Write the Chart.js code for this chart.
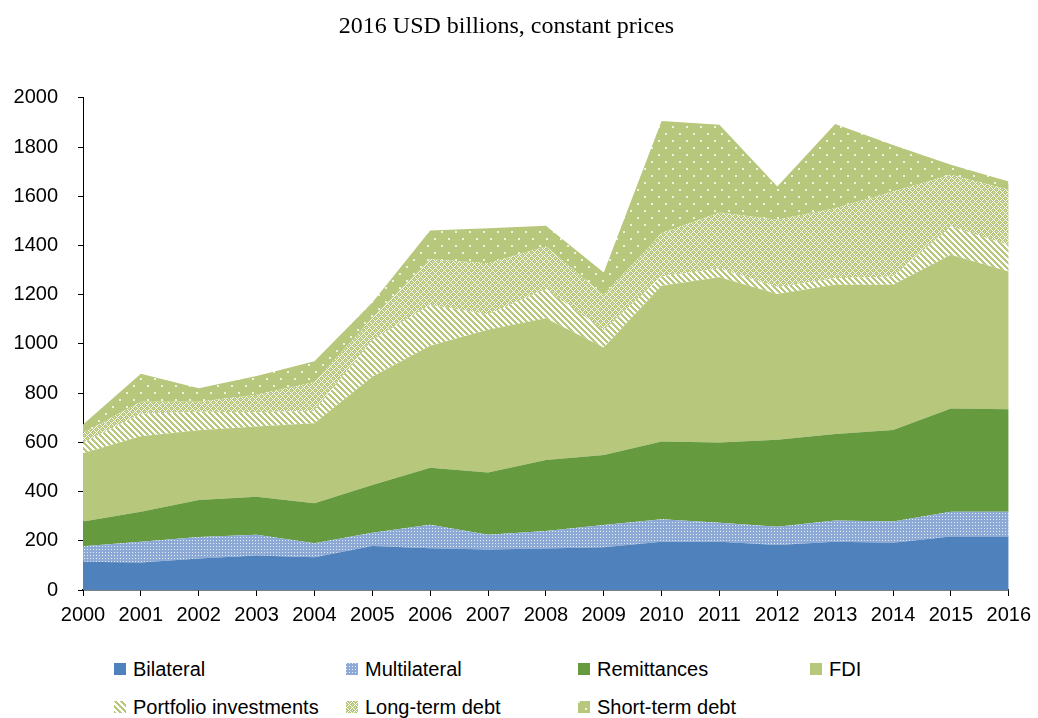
<!DOCTYPE html>
<html>
<head>
<meta charset="utf-8">
<script src="https://cdn.jsdelivr.net/npm/chart.js@4"></script>
<style>
  body { margin: 0; background: #fff; }
  #wrap { position: relative; width: 1038px; height: 718px; }
  #chart { position: absolute; left: 0; top: 0; }
  .leg { position: absolute; font-family: 'Liberation Sans', Arial, sans-serif; font-size: 20px; color: #000; white-space: nowrap; line-height: 24px; }
  .leg canvas { position: absolute; left: 0; top: 6px; }
  .leg span { position: absolute; left: 19px; top: 0; }
</style>
</head>
<body>
<div id="wrap">
  <canvas id="chart" width="1038" height="630"></canvas>
</div>
<script>
// data (USD billions)
const years = ['2000','2001','2002','2003','2004','2005','2006','2007','2008','2009','2010','2011','2012','2013','2014','2015','2016'];
const bilateral    = [115,112,128,140,133,179,170,165,169,174,196,196,183,196,192,217,217];
const multilateral = [63,84,87,84,57,54,95,59,71,90,91,77,74,86,86,101,101];
const remittances  = [100,122,151,155,162,194,232,253,288,285,316,326,354,352,372,420,416];
const fdi          = [278,307,283,285,326,440,495,580,576,436,633,672,592,606,590,624,560];
const portfolio    = [42,91,75,58,50,149,166,63,118,70,38,35,27,27,34,115,108];
const longTermDebt = [40,49,41,71,117,89,186,208,174,144,176,228,274,284,345,210,224];
const shortTermDebt= [34,114,55,77,85,63,117,142,84,91,456,356,136,343,189,41,34];
const seriesNames  = ['Bilateral','Multilateral','Remittances','FDI','Portfolio investments','Long-term debt','Short-term debt'];

const BLUE = '#4F81BD', DKGREEN = '#669A3F', LTGREEN = '#B7C77B';

// small tiles for the fill patterns
function tile(size, draw) {
  const c = document.createElement('canvas');
  c.width = c.height = size;
  draw(c.getContext('2d'), size);
  return c;
}
const tiles = {
  solidBlue: tile(2, (g, s) => { g.fillStyle = BLUE; g.fillRect(0, 0, s, s); }),
  checkBlue: tile(3, (g) => {
    g.fillStyle = '#8DAAD6'; g.fillRect(0, 0, 3, 3);
    g.fillStyle = '#E4ECF6'; g.fillRect(0, 0, 1, 1);
  }),
  solidDark: tile(2, (g, s) => { g.fillStyle = DKGREEN; g.fillRect(0, 0, s, s); }),
  solidLight: tile(2, (g, s) => { g.fillStyle = LTGREEN; g.fillRect(0, 0, s, s); }),
  stripes: tile(6, (g, s) => {
    g.fillStyle = '#fff'; g.fillRect(0, 0, s, s);
    g.fillStyle = LTGREEN;
    for (let y = 0; y < s; y++) for (let x = 0; x < s; x++) {
      if (((x - y) % s + s) % s < 3) g.fillRect(x, y, 1, 1);
    }
  }),
  lattice: tile(6, (g, s) => {
    g.fillStyle = LTGREEN; g.fillRect(0, 0, s, s);
    g.fillStyle = '#fff';
    for (let y = 0; y < s; y++) for (let x = 0; x < s; x++) {
      if ((x + y) % s === 0 || ((x - y) % s + s) % s === 0) g.fillRect(x, y, 1, 1);
    }
    g.fillStyle = '#DCE5C0';
    g.fillRect(3, 0, 1, 1); g.fillRect(0, 3, 1, 1);
  }),
  dots: tile(14, (g, s) => {
    g.fillStyle = LTGREEN; g.fillRect(0, 0, s, s);
    g.fillStyle = '#EEF2E0';
    g.fillRect(0, 0, 2, 2); g.fillRect(7, 7, 2, 2);
  })
};
const fillTiles = [tiles.solidBlue, tiles.checkBlue, tiles.solidDark, tiles.solidLight, tiles.stripes, tiles.lattice, tiles.dots];

const ctx = document.getElementById('chart').getContext('2d');
const allData = [bilateral, multilateral, remittances, fdi, portfolio, longTermDebt, shortTermDebt];

const datasets = allData.map((d, i) => ({
  label: seriesNames[i],
  data: d,
  backgroundColor: ctx.createPattern(fillTiles[i], 'repeat'),
  borderWidth: 0,
  pointRadius: 0,
  tension: 0,
  fill: i === 0 ? 'origin' : '-1'
}));

new Chart(ctx, {
  type: 'line',
  data: { labels: years, datasets: datasets },
  options: {
    responsive: false,
    animation: false,
    layout: { padding: { left: 0, right: 25, top: 0, bottom: 0 } },
    plugins: {
      legend: { display: false },
      tooltip: { enabled: false },
      title: {
        display: true,
        text: '2016 USD billions, constant prices',
        color: '#000',
        font: { family: 'Liberation Serif', size: 24, weight: 'normal' },
        padding: { top: 12, bottom: 57 }
      }
    },
    scales: {
      x: {
        offset: false,
        grid: { drawOnChartArea: false, color: '#000', tickLength: 6 },
        border: { color: '#000', width: 1.5 },
        ticks: { color: '#000', font: { family: 'Liberation Sans', size: 20 }, maxRotation: 0, autoSkip: false, padding: 7 },
        afterFit(s) { s.height = 40; }
      },
      y: {
        stacked: true,
        min: 0, max: 2000,
        grid: { drawOnChartArea: false, color: '#000', tickLength: 5 },
        border: { color: '#000', width: 1 },
        ticks: { stepSize: 200, color: '#000', font: { family: 'Liberation Sans', size: 20 }, padding: 20,
                 callback: (v) => String(v) },
        afterFit(s) { s.width = 83; }
      }
    }
  }
});

// legend laid out in four columns like the original
const wrap = document.getElementById('wrap');
const legLeft = [114, 346, 578, 810];
const legTop = [657, 695];
seriesNames.forEach((name, i) => {
  const item = document.createElement('div');
  item.className = 'leg';
  item.style.left = legLeft[i % 4] + 'px';
  item.style.top = legTop[Math.floor(i / 4)] + 'px';
  const sw = document.createElement('canvas');
  sw.width = 12; sw.height = 12;
  const g = sw.getContext('2d');
  g.fillStyle = g.createPattern(fillTiles[i], 'repeat');
  g.fillRect(0, 0, 12, 12);
  const tx = document.createElement('span');
  tx.textContent = name;
  item.appendChild(sw);
  item.appendChild(tx);
  wrap.appendChild(item);
});
</script>
</body>
</html>
